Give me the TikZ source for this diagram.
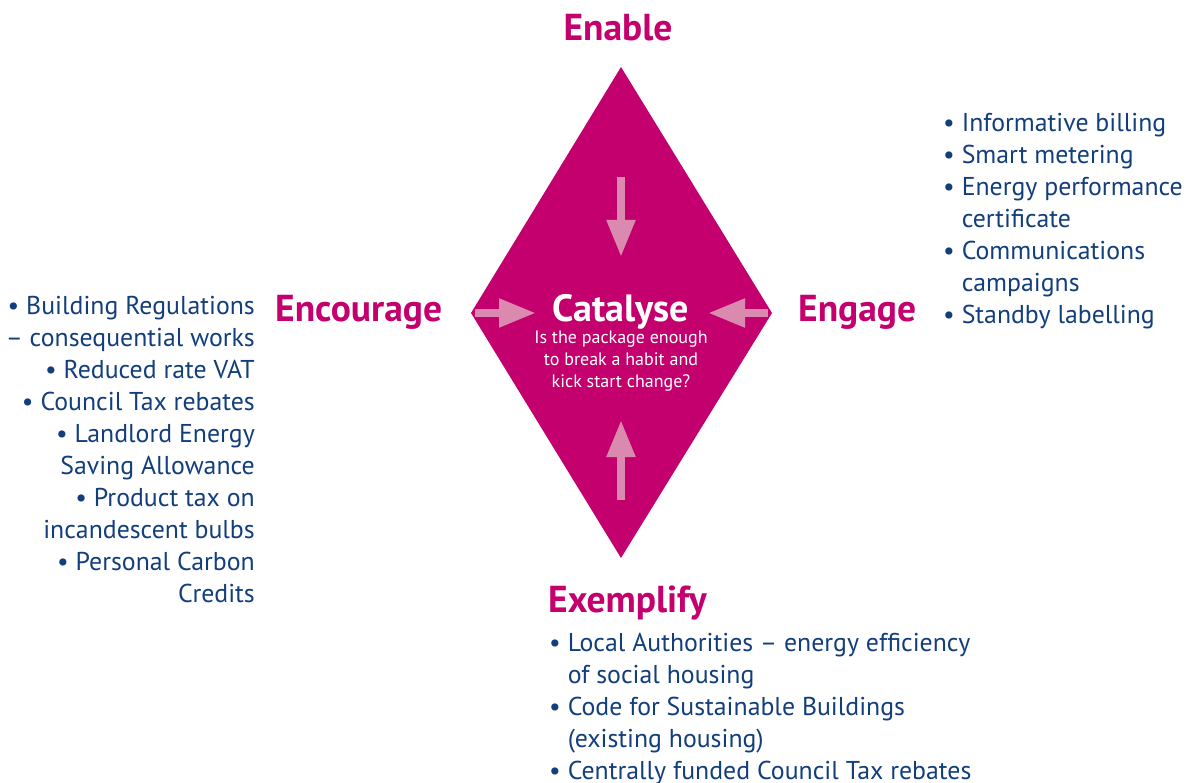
\documentclass[tikz,border=0pt]{standalone}
\usepackage{fontspec}
\setmainfont{PT Sans}
\usepackage{tikz}
\usetikzlibrary{arrows.meta}

\definecolor{catmag}{RGB}{196,0,110}
\definecolor{catpink}{RGB}{218,138,174}
\definecolor{catblue}{RGB}{18,62,124}

\tikzset{
    heading/.style={text=catmag, inner sep=0pt, font={\fontsize{37.5}{44}\selectfont\bfseries}},
    itemlist/.style={text=catblue, inner sep=0pt, font={\fontsize{25.8}{32}\selectfont}},
    push/.style={draw=catpink, line width=8pt, -{Triangle[length=37pt,width=27pt]}}
}

\begin{document}
\begin{tikzpicture}[x=1pt,y=-1pt]
        \useasboundingbox (0,0) rectangle (1191,783);
        \coordinate (top) at (621,67);
        \coordinate (bottom) at (621,558);
        \coordinate (left) at (471,313);
        \coordinate (right) at (772,313);
        \fill[catmag](top)--(right)--(bottom)--(left)--cycle;
        \coordinate (t0) at (621,177);
        \coordinate (t1) at (621,257);
        \coordinate (b0) at (621,500);
        \coordinate (b1) at (621,420);
        \coordinate (l0) at (475,313);
        \coordinate (l1) at (536,313);
        \coordinate (r0) at (768,313);
        \coordinate (r1) at (708,313);
        \draw[push](t0)--(t1);
        \draw[push](b0)--(b1);
        \draw[push](l0)--(l1);
        \draw[push](r0)--(r1);
        \node[text=white, inner sep=0pt, anchor=base, font={\fontsize{38}{44}\selectfont\bfseries}] (catalyse) at (621,322) {Catalyse};
        \node[text=white, inner sep=0pt, anchor=north, align=center, font={\fontsize{18}{22}\selectfont}] (question) at (621,331) {Is the package enough\\to break a habit and\\kick start change?};
        \node[heading, anchor=base] (enable) at (618,41) {Enable};
        \node[heading, anchor=base west] (encourage) at (275,322) {Encourage};
        \node[heading, anchor=base west] (engage) at (798,322) {Engage};
        \node[heading, anchor=base west] (exemplify) at (548,612) {Exemplify};
        \node[itemlist, anchor=north east, align=right] (encouragelist) at (255,296) {%
            • Building Regulations\\
            – consequential works\\
            • Reduced rate VAT\\
            • Council Tax rebates\\
            • Landlord Energy\\
            Saving Allowance\\
            • Product tax on\\
            incandescent bulbs\\
            • Personal Carbon\\
            Credits};
        \node[itemlist, anchor=north west, align=left] (engagelist) at (943,113) {%
            • Informative billing\\
            • Smart metering\\
            • Energy performance\\
            \phantom{• }certificate\\
            • Communications\\
            \phantom{• }campaigns\\
            • Standby labelling};
        \node[itemlist, anchor=north west, align=left] (exemplifylist) at (549,633) {%
            • Local Authorities – energy efficiency\\
            \phantom{• }of social housing\\
            • Code for Sustainable Buildings\\
            \phantom{• }(existing housing)\\
            • Centrally funded Council Tax rebates};
    \end{tikzpicture}
\end{document}
